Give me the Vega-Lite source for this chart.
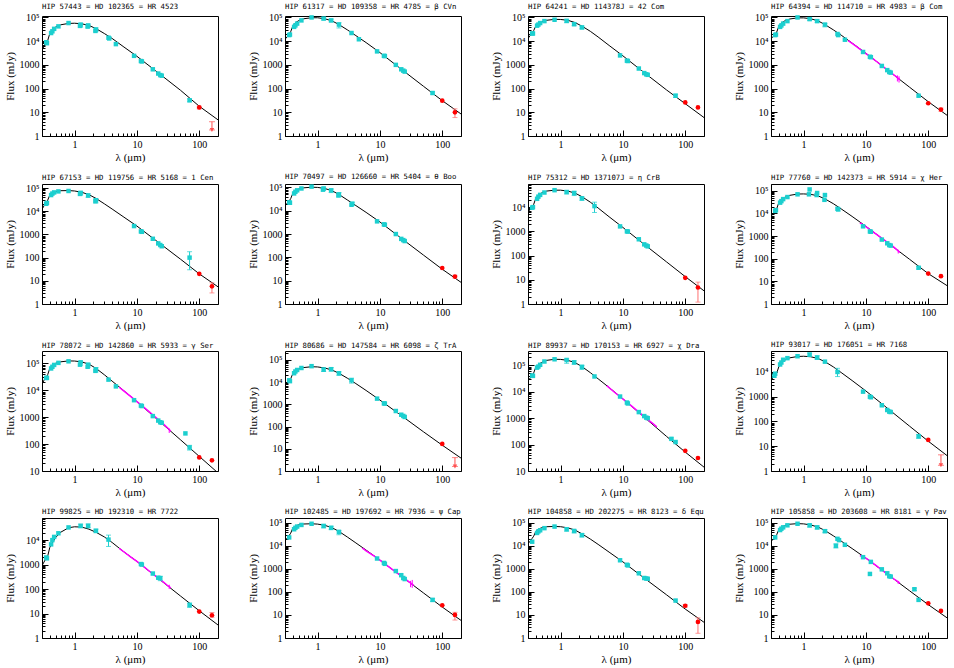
{
"$schema": "https://vega.github.io/schema/vega-lite/v6.json",
"background": "white",
"padding": {"left": 3, "top": 2, "right": 0, "bottom": 0},
"columns": 4,
"spacing": {"row": 9, "column": 27},
"datasets": {"d": [
{"p":1,"k":"m","x":0.3,"y":4000},{"p":1,"k":"m","x":0.33,"y":7000},{"p":1,"k":"m","x":0.35,"y":8500},{"p":1,"k":"m","x":0.37,"y":10500},{"p":1,"k":"m","x":0.4,"y":21000},{"p":1,"k":"m","x":0.45,"y":31000},{"p":1,"k":"m","x":0.5,"y":40000},{"p":1,"k":"m","x":0.6,"y":49000},{"p":1,"k":"m","x":0.8,"y":56000},{"p":1,"k":"m","x":1,"y":57000},{"p":1,"k":"m","x":1.3,"y":54000},{"p":1,"k":"m","x":1.7,"y":46000},{"p":1,"k":"m","x":2.2,"y":34000},{"p":1,"k":"m","x":3,"y":21000},{"p":1,"k":"m","x":4,"y":13000},{"p":1,"k":"m","x":6,"y":6000},{"p":1,"k":"m","x":10,"y":2300},{"p":1,"k":"m","x":20,"y":560},{"p":1,"k":"m","x":50,"y":85},{"p":1,"k":"m","x":100,"y":18},{"p":1,"k":"m","x":200,"y":4.8},
{"p":1,"k":"c","x":0.35,"y":9000},{"p":1,"k":"c","x":0.36,"y":8200},{"p":1,"k":"c","x":0.42,"y":22000},{"p":1,"k":"c","x":0.44,"y":26000},{"p":1,"k":"c","x":0.47,"y":33000},{"p":1,"k":"c","x":0.55,"y":42000},{"p":1,"k":"c","x":0.8,"y":58000},{"p":1,"k":"c","x":1.25,"y":50000},{"p":1,"k":"c","x":1.22,"y":44000},{"p":1,"k":"c","x":1.65,"y":46000},{"p":1,"k":"c","x":1.62,"y":41000},{"p":1,"k":"c","x":2.2,"y":31000},{"p":1,"k":"c","x":2.16,"y":27000},{"p":1,"k":"c","x":3.5,"y":14000},{"p":1,"k":"c","x":3.6,"y":13000},{"p":1,"k":"c","x":4.6,"y":7500},{"p":1,"k":"c","x":9,"y":2400},{"p":1,"k":"c","x":11.6,"y":1450},{"p":1,"k":"c","x":12,"y":1400},{"p":1,"k":"c","x":18,"y":650},{"p":1,"k":"c","x":22,"y":430},{"p":1,"k":"c","x":23.7,"y":370},{"p":1,"k":"c","x":25,"y":350},{"p":1,"k":"c","x":70,"y":32},
{"p":1,"k":"ce","x":1.25,"y":39000,"y2":56000},{"p":1,"k":"ce","x":1.65,"y":38000,"y2":52000},{"p":1,"k":"ce","x":2.2,"y":25000,"y2":36000},{"p":1,"k":"ce","x":70,"y":28,"y2":37},
{"p":1,"k":"r","x":100,"y":16},{"p":1,"k":"re","x":100,"y":14,"y2":18},{"p":1,"k":"u","x":160,"y":4,"y2":1.8},{"p":1,"k":"ua","x":160,"y":1.8},
{"p":2,"k":"m","x":0.3,"y":12000},{"p":2,"k":"m","x":0.33,"y":16000},{"p":2,"k":"m","x":0.35,"y":20000},{"p":2,"k":"m","x":0.37,"y":25000},{"p":2,"k":"m","x":0.4,"y":43000},{"p":2,"k":"m","x":0.45,"y":62000},{"p":2,"k":"m","x":0.5,"y":74000},{"p":2,"k":"m","x":0.6,"y":88000},{"p":2,"k":"m","x":0.8,"y":97000},{"p":2,"k":"m","x":1,"y":97000},{"p":2,"k":"m","x":1.3,"y":88000},{"p":2,"k":"m","x":1.7,"y":72000},{"p":2,"k":"m","x":2.2,"y":50000},{"p":2,"k":"m","x":3,"y":30000},{"p":2,"k":"m","x":4,"y":18000},{"p":2,"k":"m","x":6,"y":8700},{"p":2,"k":"m","x":10,"y":3300},{"p":2,"k":"m","x":20,"y":800},{"p":2,"k":"m","x":50,"y":125},{"p":2,"k":"m","x":100,"y":31},{"p":2,"k":"m","x":200,"y":8.5},
{"p":2,"k":"c","x":0.35,"y":18000},{"p":2,"k":"c","x":0.36,"y":19000},{"p":2,"k":"c","x":0.42,"y":40000},{"p":2,"k":"c","x":0.44,"y":46000},{"p":2,"k":"c","x":0.47,"y":55000},{"p":2,"k":"c","x":0.55,"y":75000},{"p":2,"k":"c","x":0.8,"y":100000},{"p":2,"k":"c","x":1.25,"y":90000},{"p":2,"k":"c","x":1.65,"y":75000},{"p":2,"k":"c","x":2.2,"y":50000},{"p":2,"k":"c","x":3.5,"y":22000},{"p":2,"k":"c","x":4.6,"y":12000},{"p":2,"k":"c","x":9,"y":3700},{"p":2,"k":"c","x":11.6,"y":2400},{"p":2,"k":"c","x":12,"y":2350},{"p":2,"k":"c","x":18,"y":1000},{"p":2,"k":"c","x":22,"y":650},{"p":2,"k":"c","x":23.7,"y":570},{"p":2,"k":"c","x":25,"y":520},{"p":2,"k":"c","x":70,"y":65},
{"p":2,"k":"ce","x":1.25,"y":78000,"y2":100000},{"p":2,"k":"ce","x":1.65,"y":65000,"y2":85000},{"p":2,"k":"ce","x":2.2,"y":36000,"y2":60000},{"p":2,"k":"ce","x":70,"y":58,"y2":72},
{"p":2,"k":"r","x":100,"y":31},{"p":2,"k":"r","x":160,"y":10},{"p":2,"k":"re","x":160,"y":6,"y2":14},
{"p":3,"k":"m","x":0.3,"y":13000},{"p":3,"k":"m","x":0.33,"y":18000},{"p":3,"k":"m","x":0.35,"y":22000},{"p":3,"k":"m","x":0.37,"y":28000},{"p":3,"k":"m","x":0.4,"y":43000},{"p":3,"k":"m","x":0.45,"y":56000},{"p":3,"k":"m","x":0.5,"y":66000},{"p":3,"k":"m","x":0.6,"y":76000},{"p":3,"k":"m","x":0.8,"y":83000},{"p":3,"k":"m","x":1,"y":82000},{"p":3,"k":"m","x":1.3,"y":76000},{"p":3,"k":"m","x":1.7,"y":61000},{"p":3,"k":"m","x":2.2,"y":43000},{"p":3,"k":"m","x":3,"y":26000},{"p":3,"k":"m","x":4,"y":15000},{"p":3,"k":"m","x":6,"y":6600},{"p":3,"k":"m","x":10,"y":2400},{"p":3,"k":"m","x":20,"y":570},{"p":3,"k":"m","x":50,"y":88},{"p":3,"k":"m","x":100,"y":23},{"p":3,"k":"m","x":200,"y":6},
{"p":3,"k":"c","x":0.35,"y":21000},{"p":3,"k":"c","x":0.36,"y":21000},{"p":3,"k":"c","x":0.42,"y":45000},{"p":3,"k":"c","x":0.44,"y":50000},{"p":3,"k":"c","x":0.47,"y":58000},{"p":3,"k":"c","x":0.55,"y":70000},{"p":3,"k":"c","x":0.8,"y":80000},{"p":3,"k":"c","x":1.25,"y":72000},{"p":3,"k":"c","x":1.65,"y":52000},{"p":3,"k":"c","x":2.2,"y":38000},{"p":3,"k":"c","x":9,"y":2500},{"p":3,"k":"c","x":11.6,"y":1500},{"p":3,"k":"c","x":12,"y":1450},{"p":3,"k":"c","x":18,"y":700},{"p":3,"k":"c","x":22,"y":450},{"p":3,"k":"c","x":23.7,"y":400},{"p":3,"k":"c","x":25,"y":380},{"p":3,"k":"c","x":70,"y":50},
{"p":3,"k":"ce","x":1.25,"y":60000,"y2":80000},{"p":3,"k":"ce","x":1.65,"y":45000,"y2":60000},{"p":3,"k":"ce","x":2.2,"y":33000,"y2":43000},{"p":3,"k":"ce","x":70,"y":42,"y2":58},
{"p":3,"k":"r","x":100,"y":26},{"p":3,"k":"r","x":160,"y":16},
{"p":4,"k":"m","x":0.3,"y":13000},{"p":4,"k":"m","x":0.33,"y":16000},{"p":4,"k":"m","x":0.35,"y":19000},{"p":4,"k":"m","x":0.37,"y":24000},{"p":4,"k":"m","x":0.4,"y":42000},{"p":4,"k":"m","x":0.45,"y":60000},{"p":4,"k":"m","x":0.5,"y":72000},{"p":4,"k":"m","x":0.6,"y":86000},{"p":4,"k":"m","x":0.8,"y":96000},{"p":4,"k":"m","x":1,"y":96000},{"p":4,"k":"m","x":1.3,"y":88000},{"p":4,"k":"m","x":1.7,"y":72000},{"p":4,"k":"m","x":2.2,"y":50000},{"p":4,"k":"m","x":3,"y":30000},{"p":4,"k":"m","x":4,"y":18000},{"p":4,"k":"m","x":6,"y":8300},{"p":4,"k":"m","x":10,"y":3100},{"p":4,"k":"m","x":20,"y":750},{"p":4,"k":"m","x":50,"y":115},{"p":4,"k":"m","x":100,"y":28},{"p":4,"k":"m","x":200,"y":7.5},
{"p":4,"k":"c","x":0.35,"y":18000},{"p":4,"k":"c","x":0.36,"y":19000},{"p":4,"k":"c","x":0.42,"y":40000},{"p":4,"k":"c","x":0.44,"y":46000},{"p":4,"k":"c","x":0.47,"y":55000},{"p":4,"k":"c","x":0.55,"y":70000},{"p":4,"k":"c","x":0.8,"y":100000},{"p":4,"k":"c","x":1.25,"y":85000},{"p":4,"k":"c","x":1.65,"y":70000},{"p":4,"k":"c","x":2.2,"y":50000},{"p":4,"k":"c","x":3.5,"y":20000},{"p":4,"k":"c","x":3.6,"y":18000},{"p":4,"k":"c","x":4.6,"y":11500},{"p":4,"k":"c","x":9,"y":3500},{"p":4,"k":"c","x":11.6,"y":2200},{"p":4,"k":"c","x":12,"y":2100},{"p":4,"k":"c","x":18,"y":900},{"p":4,"k":"c","x":22,"y":600},{"p":4,"k":"c","x":23.7,"y":500},{"p":4,"k":"c","x":25,"y":470},{"p":4,"k":"c","x":70,"y":50},
{"p":4,"k":"ce","x":1.25,"y":75000,"y2":95000},{"p":4,"k":"ce","x":1.65,"y":62000,"y2":78000},{"p":4,"k":"ce","x":2.2,"y":40000,"y2":56000},
{"p":4,"k":"r","x":100,"y":24},{"p":4,"k":"r","x":160,"y":13},{"p":4,"k":"re","x":160,"y":11,"y2":15},
{"p":4,"k":"s","x":5.2,"y":10500},{"p":4,"k":"s","x":6,"y":8000},{"p":4,"k":"s","x":7,"y":6000},{"p":4,"k":"s","x":8,"y":4600},{"p":4,"k":"s","x":10,"y":3000},{"p":4,"k":"s","x":12,"y":2100},{"p":4,"k":"s","x":15,"y":1350},{"p":4,"k":"s","x":18,"y":930},{"p":4,"k":"s","x":20,"y":750},{"p":4,"k":"s","x":25,"y":480},{"p":4,"k":"s","x":30,"y":330},{"p":4,"k":"s","x":33,"y":270},{"p":4,"k":"s","x":35,"y":240},
{"p":4,"k":"se","x":32,"y":200,"y2":360},{"p":4,"k":"se","x":34,"y":180,"y2":330},
{"p":5,"k":"m","x":0.3,"y":12000},{"p":5,"k":"m","x":0.33,"y":19000},{"p":5,"k":"m","x":0.35,"y":23000},{"p":5,"k":"m","x":0.37,"y":30000},{"p":5,"k":"m","x":0.4,"y":50000},{"p":5,"k":"m","x":0.45,"y":63000},{"p":5,"k":"m","x":0.5,"y":71000},{"p":5,"k":"m","x":0.6,"y":77000},{"p":5,"k":"m","x":0.8,"y":78000},{"p":5,"k":"m","x":1,"y":75000},{"p":5,"k":"m","x":1.3,"y":66000},{"p":5,"k":"m","x":1.7,"y":52000},{"p":5,"k":"m","x":2.2,"y":36000},{"p":5,"k":"m","x":3,"y":21000},{"p":5,"k":"m","x":4,"y":12500},{"p":5,"k":"m","x":6,"y":5900},{"p":5,"k":"m","x":10,"y":2300},{"p":5,"k":"m","x":20,"y":560},{"p":5,"k":"m","x":50,"y":86},{"p":5,"k":"m","x":100,"y":20},{"p":5,"k":"m","x":200,"y":5.5},
{"p":5,"k":"c","x":0.35,"y":21000},{"p":5,"k":"c","x":0.36,"y":23000},{"p":5,"k":"c","x":0.42,"y":50000},{"p":5,"k":"c","x":0.44,"y":58000},{"p":5,"k":"c","x":0.47,"y":65000},{"p":5,"k":"c","x":0.55,"y":72000},{"p":5,"k":"c","x":0.8,"y":75000},{"p":5,"k":"c","x":1.25,"y":62000},{"p":5,"k":"c","x":1.22,"y":56000},{"p":5,"k":"c","x":1.65,"y":48000},{"p":5,"k":"c","x":2.2,"y":30000},{"p":5,"k":"c","x":2.16,"y":27000},{"p":5,"k":"c","x":9,"y":2300},{"p":5,"k":"c","x":11.6,"y":1350},{"p":5,"k":"c","x":12,"y":1300},{"p":5,"k":"c","x":18,"y":650},{"p":5,"k":"c","x":22,"y":410},{"p":5,"k":"c","x":23.7,"y":350},{"p":5,"k":"c","x":25,"y":310},{"p":5,"k":"c","x":70,"y":100},
{"p":5,"k":"ce","x":1.25,"y":50000,"y2":72000},{"p":5,"k":"ce","x":1.65,"y":40000,"y2":56000},{"p":5,"k":"ce","x":2.2,"y":23000,"y2":35000},{"p":5,"k":"ce","x":70,"y":30,"y2":180},
{"p":5,"k":"r","x":100,"y":20},{"p":5,"k":"r","x":160,"y":5.8},{"p":5,"k":"re","x":160,"y":3,"y2":8.2},
{"p":6,"k":"m","x":0.3,"y":16000},{"p":6,"k":"m","x":0.33,"y":22000},{"p":6,"k":"m","x":0.35,"y":26000},{"p":6,"k":"m","x":0.37,"y":33000},{"p":6,"k":"m","x":0.4,"y":55000},{"p":6,"k":"m","x":0.45,"y":73000},{"p":6,"k":"m","x":0.5,"y":85000},{"p":6,"k":"m","x":0.6,"y":96000},{"p":6,"k":"m","x":0.8,"y":102000},{"p":6,"k":"m","x":1,"y":100000},{"p":6,"k":"m","x":1.3,"y":90000},{"p":6,"k":"m","x":1.7,"y":72000},{"p":6,"k":"m","x":2.2,"y":50000},{"p":6,"k":"m","x":3,"y":29000},{"p":6,"k":"m","x":4,"y":17500},{"p":6,"k":"m","x":6,"y":8500},{"p":6,"k":"m","x":10,"y":3300},{"p":6,"k":"m","x":20,"y":800},{"p":6,"k":"m","x":50,"y":125},{"p":6,"k":"m","x":100,"y":31},{"p":6,"k":"m","x":200,"y":8.5},
{"p":6,"k":"c","x":0.35,"y":23000},{"p":6,"k":"c","x":0.36,"y":22000},{"p":6,"k":"c","x":0.42,"y":55000},{"p":6,"k":"c","x":0.44,"y":65000},{"p":6,"k":"c","x":0.47,"y":75000},{"p":6,"k":"c","x":0.55,"y":90000},{"p":6,"k":"c","x":0.8,"y":108000},{"p":6,"k":"c","x":1.25,"y":90000},{"p":6,"k":"c","x":1.22,"y":80000},{"p":6,"k":"c","x":1.65,"y":75000},{"p":6,"k":"c","x":2.2,"y":50000},{"p":6,"k":"c","x":2.16,"y":45000},{"p":6,"k":"c","x":3.5,"y":18000},{"p":6,"k":"c","x":3.6,"y":20000},{"p":6,"k":"c","x":9,"y":3500},{"p":6,"k":"c","x":11.6,"y":2600},{"p":6,"k":"c","x":12,"y":2500},{"p":6,"k":"c","x":18,"y":1000},{"p":6,"k":"c","x":22,"y":620},{"p":6,"k":"c","x":23.7,"y":550},{"p":6,"k":"c","x":25,"y":500},
{"p":6,"k":"ce","x":1.25,"y":75000,"y2":102000},{"p":6,"k":"ce","x":1.65,"y":60000,"y2":85000},{"p":6,"k":"ce","x":2.2,"y":40000,"y2":60000},{"p":6,"k":"ce","x":3.6,"y":17000,"y2":23000},
{"p":6,"k":"r","x":100,"y":35},{"p":6,"k":"r","x":160,"y":15},{"p":6,"k":"re","x":160,"y":13,"y2":17},
{"p":7,"k":"m","x":0.3,"y":6000},{"p":7,"k":"m","x":0.33,"y":9000},{"p":7,"k":"m","x":0.35,"y":10000},{"p":7,"k":"m","x":0.37,"y":13000},{"p":7,"k":"m","x":0.4,"y":23000},{"p":7,"k":"m","x":0.45,"y":32000},{"p":7,"k":"m","x":0.5,"y":39000},{"p":7,"k":"m","x":0.6,"y":46000},{"p":7,"k":"m","x":0.8,"y":50000},{"p":7,"k":"m","x":1,"y":50000},{"p":7,"k":"m","x":1.3,"y":46000},{"p":7,"k":"m","x":1.7,"y":38000},{"p":7,"k":"m","x":2.2,"y":27000},{"p":7,"k":"m","x":3,"y":16000},{"p":7,"k":"m","x":4,"y":9200},{"p":7,"k":"m","x":6,"y":4000},{"p":7,"k":"m","x":10,"y":1450},{"p":7,"k":"m","x":20,"y":350},{"p":7,"k":"m","x":50,"y":55},{"p":7,"k":"m","x":100,"y":13.5},{"p":7,"k":"m","x":200,"y":3.5},
{"p":7,"k":"c","x":0.35,"y":9500},{"p":7,"k":"c","x":0.36,"y":10000},{"p":7,"k":"c","x":0.42,"y":22000},{"p":7,"k":"c","x":0.44,"y":27000},{"p":7,"k":"c","x":0.47,"y":32000},{"p":7,"k":"c","x":0.55,"y":40000},{"p":7,"k":"c","x":0.8,"y":50000},{"p":7,"k":"c","x":1.25,"y":42000},{"p":7,"k":"c","x":1.65,"y":38000},{"p":7,"k":"c","x":2.2,"y":23000},{"p":7,"k":"c","x":3.5,"y":11000},{"p":7,"k":"c","x":9,"y":1600},{"p":7,"k":"c","x":11.6,"y":1000},{"p":7,"k":"c","x":12,"y":980},{"p":7,"k":"c","x":18,"y":470},{"p":7,"k":"c","x":22,"y":290},{"p":7,"k":"c","x":23.7,"y":260},{"p":7,"k":"c","x":25,"y":240},
{"p":7,"k":"ce","x":1.25,"y":35000,"y2":48000},{"p":7,"k":"ce","x":1.65,"y":30000,"y2":45000},{"p":7,"k":"ce","x":2.2,"y":19000,"y2":26000},{"p":7,"k":"ce","x":3.5,"y":6000,"y2":16000},
{"p":7,"k":"r","x":100,"y":12},{"p":7,"k":"r","x":160,"y":4.8},{"p":7,"k":"re","x":160,"y":1.2,"y2":8},
{"p":8,"k":"m","x":0.3,"y":7500},{"p":8,"k":"m","x":0.33,"y":10000},{"p":8,"k":"m","x":0.35,"y":13000},{"p":8,"k":"m","x":0.37,"y":16000},{"p":8,"k":"m","x":0.4,"y":30000},{"p":8,"k":"m","x":0.45,"y":42000},{"p":8,"k":"m","x":0.5,"y":52000},{"p":8,"k":"m","x":0.6,"y":63000},{"p":8,"k":"m","x":0.8,"y":72000},{"p":8,"k":"m","x":1,"y":73000},{"p":8,"k":"m","x":1.3,"y":70000},{"p":8,"k":"m","x":1.7,"y":60000},{"p":8,"k":"m","x":2.2,"y":44000},{"p":8,"k":"m","x":3,"y":27000},{"p":8,"k":"m","x":4,"y":16000},{"p":8,"k":"m","x":6,"y":7400},{"p":8,"k":"m","x":10,"y":2700},{"p":8,"k":"m","x":20,"y":640},{"p":8,"k":"m","x":50,"y":95},{"p":8,"k":"m","x":100,"y":22},{"p":8,"k":"m","x":200,"y":6.5},
{"p":8,"k":"c","x":0.35,"y":13000},{"p":8,"k":"c","x":0.36,"y":14000},{"p":8,"k":"c","x":0.42,"y":30000},{"p":8,"k":"c","x":0.44,"y":35000},{"p":8,"k":"c","x":0.47,"y":43000},{"p":8,"k":"c","x":0.55,"y":53000},{"p":8,"k":"c","x":0.8,"y":70000},{"p":8,"k":"c","x":1.25,"y":115000},{"p":8,"k":"c","x":1.22,"y":70000},{"p":8,"k":"c","x":1.65,"y":80000},{"p":8,"k":"c","x":1.62,"y":65000},{"p":8,"k":"c","x":2.2,"y":65000},{"p":8,"k":"c","x":2.16,"y":40000},{"p":8,"k":"c","x":3.5,"y":16000},{"p":8,"k":"c","x":3.6,"y":15000},{"p":8,"k":"c","x":9,"y":2700},{"p":8,"k":"c","x":11.6,"y":1600},{"p":8,"k":"c","x":12,"y":1550},{"p":8,"k":"c","x":18,"y":700},{"p":8,"k":"c","x":22,"y":480},{"p":8,"k":"c","x":23.7,"y":400},{"p":8,"k":"c","x":25,"y":380},{"p":8,"k":"c","x":70,"y":40},
{"p":8,"k":"ce","x":70,"y":35,"y2":45},
{"p":8,"k":"r","x":100,"y":22},{"p":8,"k":"r","x":160,"y":17},
{"p":8,"k":"s","x":8,"y":3800},{"p":8,"k":"s","x":10,"y":2600},{"p":8,"k":"s","x":12,"y":1800},{"p":8,"k":"s","x":15,"y":1150},{"p":8,"k":"s","x":20,"y":650},{"p":8,"k":"s","x":25,"y":420},{"p":8,"k":"s","x":30,"y":280},{"p":8,"k":"s","x":33,"y":220},{"p":8,"k":"s","x":35,"y":190},
{"p":8,"k":"se","x":33,"y":170,"y2":250},
{"p":9,"k":"m","x":0.3,"y":17000},{"p":9,"k":"m","x":0.33,"y":26000},{"p":9,"k":"m","x":0.35,"y":30000},{"p":9,"k":"m","x":0.37,"y":38000},{"p":9,"k":"m","x":0.4,"y":66000},{"p":9,"k":"m","x":0.45,"y":88000},{"p":9,"k":"m","x":0.5,"y":102000},{"p":9,"k":"m","x":0.6,"y":115000},{"p":9,"k":"m","x":0.8,"y":124000},{"p":9,"k":"m","x":1,"y":123000},{"p":9,"k":"m","x":1.3,"y":114000},{"p":9,"k":"m","x":1.7,"y":94000},{"p":9,"k":"m","x":2.2,"y":66000},{"p":9,"k":"m","x":3,"y":38000},{"p":9,"k":"m","x":4,"y":22000},{"p":9,"k":"m","x":6,"y":10200},{"p":9,"k":"m","x":10,"y":3800},{"p":9,"k":"m","x":20,"y":930},{"p":9,"k":"m","x":50,"y":145},{"p":9,"k":"m","x":100,"y":35},{"p":9,"k":"m","x":200,"y":8.5},
{"p":9,"k":"c","x":0.35,"y":29000},{"p":9,"k":"c","x":0.36,"y":29000},{"p":9,"k":"c","x":0.42,"y":65000},{"p":9,"k":"c","x":0.44,"y":75000},{"p":9,"k":"c","x":0.47,"y":88000},{"p":9,"k":"c","x":0.55,"y":105000},{"p":9,"k":"c","x":0.8,"y":120000},{"p":9,"k":"c","x":1.25,"y":110000},{"p":9,"k":"c","x":1.22,"y":90000},{"p":9,"k":"c","x":1.65,"y":90000},{"p":9,"k":"c","x":1.62,"y":75000},{"p":9,"k":"c","x":2.2,"y":60000},{"p":9,"k":"c","x":2.16,"y":53000},{"p":9,"k":"c","x":3.5,"y":25000},{"p":9,"k":"c","x":4.6,"y":14000},{"p":9,"k":"c","x":9,"y":4300},{"p":9,"k":"c","x":11.6,"y":2700},{"p":9,"k":"c","x":12,"y":2600},{"p":9,"k":"c","x":18,"y":1100},{"p":9,"k":"c","x":22,"y":750},{"p":9,"k":"c","x":23.7,"y":650},{"p":9,"k":"c","x":25,"y":620},{"p":9,"k":"c","x":60,"y":250},{"p":9,"k":"c","x":70,"y":75},
{"p":9,"k":"ce","x":1.25,"y":85000,"y2":120000},{"p":9,"k":"ce","x":1.65,"y":70000,"y2":100000},{"p":9,"k":"ce","x":2.2,"y":48000,"y2":70000},{"p":9,"k":"ce","x":70,"y":60,"y2":90},
{"p":9,"k":"r","x":100,"y":32},{"p":9,"k":"r","x":160,"y":25},
{"p":9,"k":"s","x":5.2,"y":13000},{"p":9,"k":"s","x":6,"y":10000},{"p":9,"k":"s","x":8,"y":5800},{"p":9,"k":"s","x":10,"y":3800},{"p":9,"k":"s","x":12,"y":2700},{"p":9,"k":"s","x":15,"y":1750},{"p":9,"k":"s","x":20,"y":1000},{"p":9,"k":"s","x":25,"y":640},{"p":9,"k":"s","x":30,"y":430},{"p":9,"k":"s","x":33,"y":350},{"p":9,"k":"s","x":35,"y":300},
{"p":9,"k":"se","x":33,"y":260,"y2":380},
{"p":10,"k":"m","x":0.3,"y":7000},{"p":10,"k":"m","x":0.33,"y":10000},{"p":10,"k":"m","x":0.35,"y":11500},{"p":10,"k":"m","x":0.37,"y":14000},{"p":10,"k":"m","x":0.4,"y":24000},{"p":10,"k":"m","x":0.45,"y":33000},{"p":10,"k":"m","x":0.5,"y":39000},{"p":10,"k":"m","x":0.6,"y":45000},{"p":10,"k":"m","x":0.8,"y":49000},{"p":10,"k":"m","x":1,"y":48000},{"p":10,"k":"m","x":1.3,"y":43000},{"p":10,"k":"m","x":1.7,"y":35000},{"p":10,"k":"m","x":2.2,"y":25000},{"p":10,"k":"m","x":3,"y":15000},{"p":10,"k":"m","x":4,"y":9000},{"p":10,"k":"m","x":6,"y":4200},{"p":10,"k":"m","x":10,"y":1550},{"p":10,"k":"m","x":20,"y":380},{"p":10,"k":"m","x":50,"y":58},{"p":10,"k":"m","x":100,"y":14.5},{"p":10,"k":"m","x":200,"y":3.8},
{"p":10,"k":"c","x":0.35,"y":12000},{"p":10,"k":"c","x":0.36,"y":11000},{"p":10,"k":"c","x":0.42,"y":25000},{"p":10,"k":"c","x":0.44,"y":30000},{"p":10,"k":"c","x":0.47,"y":35000},{"p":10,"k":"c","x":0.55,"y":43000},{"p":10,"k":"c","x":0.8,"y":52000},{"p":10,"k":"c","x":1.25,"y":36000},{"p":10,"k":"c","x":1.65,"y":38000},{"p":10,"k":"c","x":2.2,"y":25000},{"p":10,"k":"c","x":3.5,"y":12000},{"p":10,"k":"c","x":9,"y":1800},{"p":10,"k":"c","x":11.6,"y":1100},{"p":10,"k":"c","x":12,"y":1080},{"p":10,"k":"c","x":18,"y":500},{"p":10,"k":"c","x":22,"y":340},{"p":10,"k":"c","x":23.7,"y":300},{"p":10,"k":"c","x":25,"y":270},
{"p":10,"k":"ce","x":1.25,"y":30000,"y2":44000},{"p":10,"k":"ce","x":1.65,"y":31000,"y2":45000},{"p":10,"k":"ce","x":2.2,"y":20000,"y2":29000},{"p":10,"k":"ce","x":3.5,"y":9000,"y2":15000},
{"p":10,"k":"r","x":100,"y":16.5},{"p":10,"k":"u","x":160,"y":4,"y2":1.6},{"p":10,"k":"ua","x":160,"y":1.6},
{"p":11,"k":"m","x":0.3,"y":25000},{"p":11,"k":"m","x":0.33,"y":35000},{"p":11,"k":"m","x":0.35,"y":42000},{"p":11,"k":"m","x":0.37,"y":52000},{"p":11,"k":"m","x":0.4,"y":85000},{"p":11,"k":"m","x":0.45,"y":112000},{"p":11,"k":"m","x":0.5,"y":130000},{"p":11,"k":"m","x":0.6,"y":155000},{"p":11,"k":"m","x":0.8,"y":170000},{"p":11,"k":"m","x":1,"y":168000},{"p":11,"k":"m","x":1.3,"y":155000},{"p":11,"k":"m","x":1.7,"y":128000},{"p":11,"k":"m","x":2.2,"y":90000},{"p":11,"k":"m","x":3,"y":53000},{"p":11,"k":"m","x":4,"y":31000},{"p":11,"k":"m","x":6,"y":14500},{"p":11,"k":"m","x":10,"y":5400},{"p":11,"k":"m","x":20,"y":1320},{"p":11,"k":"m","x":50,"y":205},{"p":11,"k":"m","x":100,"y":52},{"p":11,"k":"m","x":200,"y":14},
{"p":11,"k":"c","x":0.35,"y":41000},{"p":11,"k":"c","x":0.36,"y":40000},{"p":11,"k":"c","x":0.42,"y":82000},{"p":11,"k":"c","x":0.44,"y":90000},{"p":11,"k":"c","x":0.47,"y":105000},{"p":11,"k":"c","x":0.55,"y":140000},{"p":11,"k":"c","x":0.8,"y":170000},{"p":11,"k":"c","x":1.25,"y":160000},{"p":11,"k":"c","x":1.65,"y":130000},{"p":11,"k":"c","x":2.2,"y":88000},{"p":11,"k":"c","x":3.5,"y":38000},{"p":11,"k":"c","x":9,"y":6600},{"p":11,"k":"c","x":11.6,"y":3900},{"p":11,"k":"c","x":12,"y":3600},{"p":11,"k":"c","x":18,"y":1700},{"p":11,"k":"c","x":22,"y":1200},{"p":11,"k":"c","x":23.7,"y":1050},{"p":11,"k":"c","x":25,"y":1000},{"p":11,"k":"c","x":60,"y":165},{"p":11,"k":"c","x":70,"y":125},
{"p":11,"k":"ce","x":1.25,"y":120000,"y2":175000},{"p":11,"k":"ce","x":1.65,"y":110000,"y2":150000},{"p":11,"k":"ce","x":2.2,"y":70000,"y2":100000},{"p":11,"k":"ce","x":60,"y":150,"y2":180},
{"p":11,"k":"r","x":100,"y":58},{"p":11,"k":"r","x":160,"y":31},
{"p":11,"k":"s","x":5.5,"y":17000},{"p":11,"k":"s","x":7,"y":10500},{"p":11,"k":"s","x":9,"y":6500},{"p":11,"k":"s","x":11,"y":4400},{"p":11,"k":"s","x":14,"y":2800},{"p":11,"k":"s","x":18,"y":1700},{"p":11,"k":"s","x":22,"y":1150},{"p":11,"k":"s","x":26,"y":830},{"p":11,"k":"s","x":30,"y":640},{"p":11,"k":"s","x":35,"y":470},
{"p":12,"k":"m","x":0.3,"y":4500},{"p":12,"k":"m","x":0.33,"y":6500},{"p":12,"k":"m","x":0.35,"y":7500},{"p":12,"k":"m","x":0.37,"y":9000},{"p":12,"k":"m","x":0.4,"y":16000},{"p":12,"k":"m","x":0.45,"y":24000},{"p":12,"k":"m","x":0.5,"y":30000},{"p":12,"k":"m","x":0.6,"y":37000},{"p":12,"k":"m","x":0.8,"y":42000},{"p":12,"k":"m","x":1,"y":43000},{"p":12,"k":"m","x":1.3,"y":41000},{"p":12,"k":"m","x":1.7,"y":35000},{"p":12,"k":"m","x":2.2,"y":26000},{"p":12,"k":"m","x":3,"y":16000},{"p":12,"k":"m","x":4,"y":9500},{"p":12,"k":"m","x":6,"y":4500},{"p":12,"k":"m","x":10,"y":1700},{"p":12,"k":"m","x":20,"y":420},{"p":12,"k":"m","x":50,"y":65},{"p":12,"k":"m","x":100,"y":16},{"p":12,"k":"m","x":200,"y":4.2},
{"p":12,"k":"c","x":0.34,"y":7000},{"p":12,"k":"c","x":0.35,"y":8500},{"p":12,"k":"c","x":0.42,"y":20000},{"p":12,"k":"c","x":0.44,"y":24000},{"p":12,"k":"c","x":0.47,"y":31000},{"p":12,"k":"c","x":0.55,"y":36000},{"p":12,"k":"c","x":0.8,"y":43000},{"p":12,"k":"c","x":1.25,"y":50000},{"p":12,"k":"c","x":1.65,"y":38000},{"p":12,"k":"c","x":2.2,"y":26000},{"p":12,"k":"c","x":3.5,"y":10000},{"p":12,"k":"c","x":9,"y":1600},{"p":12,"k":"c","x":11.6,"y":1000},{"p":12,"k":"c","x":12,"y":950},{"p":12,"k":"c","x":18,"y":450},{"p":12,"k":"c","x":22,"y":290},{"p":12,"k":"c","x":23.7,"y":250},{"p":12,"k":"c","x":25,"y":240},{"p":12,"k":"c","x":70,"y":25},
{"p":12,"k":"ce","x":1.25,"y":43000,"y2":58000},{"p":12,"k":"ce","x":1.65,"y":32000,"y2":45000},{"p":12,"k":"ce","x":3.5,"y":6500,"y2":14000},{"p":12,"k":"ce","x":70,"y":21,"y2":30},
{"p":12,"k":"r","x":100,"y":18},{"p":12,"k":"u","x":160,"y":4.5,"y2":1.7},{"p":12,"k":"ua","x":160,"y":1.7},
{"p":13,"k":"m","x":0.3,"y":900},{"p":13,"k":"m","x":0.33,"y":1400},{"p":13,"k":"m","x":0.35,"y":1900},{"p":13,"k":"m","x":0.37,"y":2200},{"p":13,"k":"m","x":0.4,"y":5000},{"p":13,"k":"m","x":0.45,"y":8500},{"p":13,"k":"m","x":0.5,"y":13000},{"p":13,"k":"m","x":0.6,"y":21000},{"p":13,"k":"m","x":0.8,"y":32000},{"p":13,"k":"m","x":1,"y":35000},{"p":13,"k":"m","x":1.3,"y":34000},{"p":13,"k":"m","x":1.7,"y":28000},{"p":13,"k":"m","x":2.2,"y":21000},{"p":13,"k":"m","x":3,"y":13500},{"p":13,"k":"m","x":4,"y":8000},{"p":13,"k":"m","x":6,"y":3500},{"p":13,"k":"m","x":10,"y":1350},{"p":13,"k":"m","x":20,"y":330},{"p":13,"k":"m","x":50,"y":52},{"p":13,"k":"m","x":100,"y":13},{"p":13,"k":"m","x":200,"y":3.4},
{"p":13,"k":"c","x":0.35,"y":1950},{"p":13,"k":"c","x":0.36,"y":1800},{"p":13,"k":"c","x":0.42,"y":6700},{"p":13,"k":"c","x":0.44,"y":10000},{"p":13,"k":"c","x":0.47,"y":13500},{"p":13,"k":"c","x":0.55,"y":19000},{"p":13,"k":"c","x":0.8,"y":33000},{"p":13,"k":"c","x":1.25,"y":38000},{"p":13,"k":"c","x":1.65,"y":38000},{"p":13,"k":"c","x":2.2,"y":24000},{"p":13,"k":"c","x":3.5,"y":10500},{"p":13,"k":"c","x":11.6,"y":1050},{"p":13,"k":"c","x":12,"y":1000},{"p":13,"k":"c","x":18,"y":430},{"p":13,"k":"c","x":22,"y":290},{"p":13,"k":"c","x":23.7,"y":280},{"p":13,"k":"c","x":70,"y":22},
{"p":13,"k":"ce","x":1.25,"y":32000,"y2":45000},{"p":13,"k":"ce","x":1.65,"y":32000,"y2":46000},{"p":13,"k":"ce","x":2.2,"y":20000,"y2":28000},{"p":13,"k":"ce","x":3.5,"y":5500,"y2":16000},{"p":13,"k":"ce","x":23.7,"y":220,"y2":330},{"p":13,"k":"ce","x":70,"y":18,"y2":27},
{"p":13,"k":"r","x":100,"y":12},{"p":13,"k":"r","x":160,"y":8.5},{"p":13,"k":"re","x":160,"y":7,"y2":11},
{"p":13,"k":"s","x":5.2,"y":4600},{"p":13,"k":"s","x":6,"y":3500},{"p":13,"k":"s","x":8,"y":2000},{"p":13,"k":"s","x":10,"y":1350},{"p":13,"k":"s","x":12,"y":950},{"p":13,"k":"s","x":15,"y":600},{"p":13,"k":"s","x":20,"y":340},{"p":13,"k":"s","x":25,"y":220},{"p":13,"k":"s","x":30,"y":150},{"p":13,"k":"s","x":33,"y":125},{"p":13,"k":"s","x":35,"y":110},
{"p":13,"k":"se","x":33,"y":100,"y2":150},
{"p":14,"k":"m","x":0.3,"y":16000},{"p":14,"k":"m","x":0.33,"y":23000},{"p":14,"k":"m","x":0.35,"y":28000},{"p":14,"k":"m","x":0.37,"y":35000},{"p":14,"k":"m","x":0.4,"y":58000},{"p":14,"k":"m","x":0.45,"y":73000},{"p":14,"k":"m","x":0.5,"y":82000},{"p":14,"k":"m","x":0.6,"y":88000},{"p":14,"k":"m","x":0.8,"y":90000},{"p":14,"k":"m","x":1,"y":87000},{"p":14,"k":"m","x":1.3,"y":77000},{"p":14,"k":"m","x":1.7,"y":61000},{"p":14,"k":"m","x":2.2,"y":42000},{"p":14,"k":"m","x":3,"y":24000},{"p":14,"k":"m","x":4,"y":14000},{"p":14,"k":"m","x":6,"y":6500},{"p":14,"k":"m","x":10,"y":2400},{"p":14,"k":"m","x":20,"y":580},{"p":14,"k":"m","x":50,"y":90},{"p":14,"k":"m","x":100,"y":22},{"p":14,"k":"m","x":200,"y":5.8},
{"p":14,"k":"c","x":0.35,"y":23000},{"p":14,"k":"c","x":0.42,"y":52000},{"p":14,"k":"c","x":0.44,"y":60000},{"p":14,"k":"c","x":0.47,"y":68000},{"p":14,"k":"c","x":0.55,"y":80000},{"p":14,"k":"c","x":0.8,"y":90000},{"p":14,"k":"c","x":1.25,"y":72000},{"p":14,"k":"c","x":1.65,"y":60000},{"p":14,"k":"c","x":2.2,"y":40000},{"p":14,"k":"c","x":9,"y":2800},{"p":14,"k":"c","x":11.6,"y":1800},{"p":14,"k":"c","x":12,"y":1650},{"p":14,"k":"c","x":18,"y":800},{"p":14,"k":"c","x":22,"y":530},{"p":14,"k":"c","x":23.7,"y":400},{"p":14,"k":"c","x":25,"y":360},{"p":14,"k":"c","x":70,"y":45},
{"p":14,"k":"ce","x":1.25,"y":60000,"y2":85000},{"p":14,"k":"ce","x":1.65,"y":50000,"y2":70000},{"p":14,"k":"ce","x":2.2,"y":30000,"y2":45000},{"p":14,"k":"ce","x":70,"y":38,"y2":52},
{"p":14,"k":"r","x":100,"y":26},{"p":14,"k":"r","x":160,"y":10},{"p":14,"k":"re","x":160,"y":6,"y2":13},
{"p":14,"k":"s","x":5.2,"y":8000},{"p":14,"k":"s","x":6,"y":6000},{"p":14,"k":"s","x":8,"y":3600},{"p":14,"k":"s","x":10,"y":2400},{"p":14,"k":"s","x":12,"y":1650},{"p":14,"k":"s","x":15,"y":1050},{"p":14,"k":"s","x":20,"y":590},{"p":14,"k":"s","x":25,"y":380},{"p":14,"k":"s","x":30,"y":260},{"p":14,"k":"s","x":33,"y":220},{"p":14,"k":"s","x":35,"y":190},
{"p":14,"k":"se","x":31,"y":160,"y2":300},{"p":14,"k":"se","x":33,"y":150,"y2":330},
{"p":15,"k":"m","x":0.3,"y":12000},{"p":15,"k":"m","x":0.33,"y":17000},{"p":15,"k":"m","x":0.35,"y":21000},{"p":15,"k":"m","x":0.37,"y":26000},{"p":15,"k":"m","x":0.4,"y":42000},{"p":15,"k":"m","x":0.45,"y":54000},{"p":15,"k":"m","x":0.5,"y":61000},{"p":15,"k":"m","x":0.6,"y":67000},{"p":15,"k":"m","x":0.8,"y":69000},{"p":15,"k":"m","x":1,"y":67000},{"p":15,"k":"m","x":1.3,"y":60000},{"p":15,"k":"m","x":1.7,"y":48000},{"p":15,"k":"m","x":2.2,"y":33000},{"p":15,"k":"m","x":3,"y":19500},{"p":15,"k":"m","x":4,"y":11500},{"p":15,"k":"m","x":6,"y":5300},{"p":15,"k":"m","x":10,"y":2000},{"p":15,"k":"m","x":20,"y":480},{"p":15,"k":"m","x":50,"y":75},{"p":15,"k":"m","x":100,"y":18},{"p":15,"k":"m","x":200,"y":4.8},
{"p":15,"k":"c","x":0.35,"y":15000},{"p":15,"k":"c","x":0.42,"y":36000},{"p":15,"k":"c","x":0.44,"y":42000},{"p":15,"k":"c","x":0.47,"y":47000},{"p":15,"k":"c","x":0.55,"y":58000},{"p":15,"k":"c","x":0.8,"y":68000},{"p":15,"k":"c","x":1.25,"y":52000},{"p":15,"k":"c","x":1.65,"y":44000},{"p":15,"k":"c","x":2.2,"y":29000},{"p":15,"k":"c","x":9,"y":2350},{"p":15,"k":"c","x":11.6,"y":1500},{"p":15,"k":"c","x":12,"y":1400},{"p":15,"k":"c","x":18,"y":640},{"p":15,"k":"c","x":22,"y":400},{"p":15,"k":"c","x":23.7,"y":380},{"p":15,"k":"c","x":25,"y":370},{"p":15,"k":"c","x":70,"y":42},
{"p":15,"k":"ce","x":1.25,"y":43000,"y2":60000},{"p":15,"k":"ce","x":1.65,"y":36000,"y2":50000},{"p":15,"k":"ce","x":2.2,"y":24000,"y2":34000},
{"p":15,"k":"r","x":100,"y":25},{"p":15,"k":"r","x":160,"y":5},{"p":15,"k":"re","x":100,"y":22,"y2":28},{"p":15,"k":"re","x":160,"y":1.6,"y2":7.5},
{"p":16,"k":"m","x":0.3,"y":15000},{"p":16,"k":"m","x":0.33,"y":21000},{"p":16,"k":"m","x":0.35,"y":24000},{"p":16,"k":"m","x":0.37,"y":30000},{"p":16,"k":"m","x":0.4,"y":50000},{"p":16,"k":"m","x":0.45,"y":66000},{"p":16,"k":"m","x":0.5,"y":76000},{"p":16,"k":"m","x":0.6,"y":86000},{"p":16,"k":"m","x":0.8,"y":91000},{"p":16,"k":"m","x":1,"y":89000},{"p":16,"k":"m","x":1.3,"y":80000},{"p":16,"k":"m","x":1.7,"y":65000},{"p":16,"k":"m","x":2.2,"y":46000},{"p":16,"k":"m","x":3,"y":27000},{"p":16,"k":"m","x":4,"y":16000},{"p":16,"k":"m","x":6,"y":7600},{"p":16,"k":"m","x":10,"y":2900},{"p":16,"k":"m","x":20,"y":720},{"p":16,"k":"m","x":50,"y":112},{"p":16,"k":"m","x":100,"y":28},{"p":16,"k":"m","x":200,"y":7.5},
{"p":16,"k":"c","x":0.35,"y":23000},{"p":16,"k":"c","x":0.42,"y":48000},{"p":16,"k":"c","x":0.44,"y":55000},{"p":16,"k":"c","x":0.47,"y":63000},{"p":16,"k":"c","x":0.55,"y":77000},{"p":16,"k":"c","x":0.8,"y":90000},{"p":16,"k":"c","x":1.25,"y":77000},{"p":16,"k":"c","x":1.65,"y":63000},{"p":16,"k":"c","x":2.2,"y":43000},{"p":16,"k":"c","x":3.3,"y":10000},{"p":16,"k":"c","x":3.5,"y":20000},{"p":16,"k":"c","x":3.7,"y":17500},{"p":16,"k":"c","x":4.6,"y":11000},{"p":16,"k":"c","x":9,"y":3200},{"p":16,"k":"c","x":11.6,"y":600},{"p":16,"k":"c","x":12,"y":2000},{"p":16,"k":"c","x":18,"y":950},{"p":16,"k":"c","x":22,"y":640},{"p":16,"k":"c","x":23.7,"y":480},{"p":16,"k":"c","x":25,"y":460},{"p":16,"k":"c","x":60,"y":130},{"p":16,"k":"c","x":70,"y":45},
{"p":16,"k":"ce","x":1.25,"y":65000,"y2":88000},{"p":16,"k":"ce","x":1.65,"y":53000,"y2":72000},{"p":16,"k":"ce","x":2.2,"y":37000,"y2":50000},{"p":16,"k":"ce","x":3.3,"y":8000,"y2":12000},{"p":16,"k":"ce","x":60,"y":115,"y2":145},
{"p":16,"k":"r","x":100,"y":32},{"p":16,"k":"r","x":160,"y":15},
{"p":16,"k":"s","x":8,"y":3800},{"p":16,"k":"s","x":10,"y":2900},{"p":16,"k":"s","x":12,"y":2050},{"p":16,"k":"s","x":15,"y":1300},{"p":16,"k":"s","x":20,"y":720},{"p":16,"k":"s","x":25,"y":460},{"p":16,"k":"s","x":30,"y":320},{"p":16,"k":"s","x":33,"y":270},{"p":16,"k":"s","x":35,"y":240},
{"p":16,"k":"se","x":33,"y":220,"y2":300}
]},
"concat": [
{"title": "HIP 57443 = HD 102365 = HR 4523", "width": 176, "height": 120, "data": {"name": "d"}, "transform": [{"filter": "datum.p==1"}],
 "encoding": {"x": {"field": "x", "type": "quantitative", "scale": {"type": "log", "domain": [0.3, 200]}, "axis": {"title": "λ (μm)", "values": [0.3,0.4,0.5,0.6,0.7,0.8,0.9,1,2,3,4,5,6,7,8,9,10,20,30,40,50,60,70,80,90,100,200]}},
  "y": {"field": "y", "type": "quantitative", "scale": {"type": "log", "domain": [1, 115000]}, "axis": {"title": "Flux (mJy)", "values": [1,2,3,4,5,6,7,8,9,10,20,30,40,50,60,70,80,90,100,200,300,400,500,600,700,800,900,1000,2000,3000,4000,5000,6000,7000,8000,9000,10000,20000,30000,40000,50000,60000,70000,80000,90000,100000,200000,300000]}}},
 "layer": [
  {"transform": [{"filter": "datum.k=='m'"}], "mark": {"type": "line", "color": "black", "strokeWidth": 1, "clip": true}},
  {"transform": [{"filter": "datum.k=='s'"}], "mark": {"type": "line", "color": "#ff00ff", "strokeWidth": 1.5, "clip": true}},
  {"transform": [{"filter": "datum.k=='se'"}], "mark": {"type": "rule", "color": "#ff00ff", "strokeWidth": 1}, "encoding": {"y2": {"field": "y2"}}},
  {"transform": [{"filter": "datum.k=='ce'"}], "mark": {"type": "errorbar", "ticks": {"size": 5}, "color": "#1ccfcf"}, "encoding": {"y2": {"field": "y2"}}},
  {"transform": [{"filter": "datum.k=='c'"}], "mark": {"type": "square", "size": 20, "color": "#1ccfcf", "opacity": 1}},
  {"transform": [{"filter": "datum.k=='re'"}], "mark": {"type": "errorbar", "ticks": {"size": 5}, "color": "#ff7070"}, "encoding": {"y2": {"field": "y2"}}},
  {"transform": [{"filter": "datum.k=='r'"}], "mark": {"type": "circle", "size": 22, "color": "#ff0000", "opacity": 1}},
  {"transform": [{"filter": "datum.k=='u'"}], "mark": {"type": "errorbar", "ticks": {"size": 6}, "color": "#ff5050"}, "encoding": {"y2": {"field": "y2"}}},
  {"transform": [{"filter": "datum.k=='ua'"}], "mark": {"type": "point", "shape": "triangle-down", "filled": true, "size": 20, "color": "#ff5050", "opacity": 1}}
 ]},
{"title": "HIP 61317 = HD 109358 = HR 4785 = β CVn", "width": 176, "height": 120, "data": {"name": "d"}, "transform": [{"filter": "datum.p==2"}],
 "encoding": {"x": {"field": "x", "type": "quantitative", "scale": {"type": "log", "domain": [0.3, 200]}, "axis": {"title": "λ (μm)", "values": [0.3,0.4,0.5,0.6,0.7,0.8,0.9,1,2,3,4,5,6,7,8,9,10,20,30,40,50,60,70,80,90,100,200]}},
  "y": {"field": "y", "type": "quantitative", "scale": {"type": "log", "domain": [1, 115000]}, "axis": {"title": "Flux (mJy)", "values": [1,2,3,4,5,6,7,8,9,10,20,30,40,50,60,70,80,90,100,200,300,400,500,600,700,800,900,1000,2000,3000,4000,5000,6000,7000,8000,9000,10000,20000,30000,40000,50000,60000,70000,80000,90000,100000,200000,300000]}}},
 "layer": [
  {"transform": [{"filter": "datum.k=='m'"}], "mark": {"type": "line", "color": "black", "strokeWidth": 1, "clip": true}},
  {"transform": [{"filter": "datum.k=='s'"}], "mark": {"type": "line", "color": "#ff00ff", "strokeWidth": 1.5, "clip": true}},
  {"transform": [{"filter": "datum.k=='se'"}], "mark": {"type": "rule", "color": "#ff00ff", "strokeWidth": 1}, "encoding": {"y2": {"field": "y2"}}},
  {"transform": [{"filter": "datum.k=='ce'"}], "mark": {"type": "errorbar", "ticks": {"size": 5}, "color": "#1ccfcf"}, "encoding": {"y2": {"field": "y2"}}},
  {"transform": [{"filter": "datum.k=='c'"}], "mark": {"type": "square", "size": 20, "color": "#1ccfcf", "opacity": 1}},
  {"transform": [{"filter": "datum.k=='re'"}], "mark": {"type": "errorbar", "ticks": {"size": 5}, "color": "#ff7070"}, "encoding": {"y2": {"field": "y2"}}},
  {"transform": [{"filter": "datum.k=='r'"}], "mark": {"type": "circle", "size": 22, "color": "#ff0000", "opacity": 1}},
  {"transform": [{"filter": "datum.k=='u'"}], "mark": {"type": "errorbar", "ticks": {"size": 6}, "color": "#ff5050"}, "encoding": {"y2": {"field": "y2"}}},
  {"transform": [{"filter": "datum.k=='ua'"}], "mark": {"type": "point", "shape": "triangle-down", "filled": true, "size": 20, "color": "#ff5050", "opacity": 1}}
 ]},
{"title": "HIP 64241 = HD 114378J = 42 Com", "width": 176, "height": 120, "data": {"name": "d"}, "transform": [{"filter": "datum.p==3"}],
 "encoding": {"x": {"field": "x", "type": "quantitative", "scale": {"type": "log", "domain": [0.3, 200]}, "axis": {"title": "λ (μm)", "values": [0.3,0.4,0.5,0.6,0.7,0.8,0.9,1,2,3,4,5,6,7,8,9,10,20,30,40,50,60,70,80,90,100,200]}},
  "y": {"field": "y", "type": "quantitative", "scale": {"type": "log", "domain": [1, 115000]}, "axis": {"title": "Flux (mJy)", "values": [1,2,3,4,5,6,7,8,9,10,20,30,40,50,60,70,80,90,100,200,300,400,500,600,700,800,900,1000,2000,3000,4000,5000,6000,7000,8000,9000,10000,20000,30000,40000,50000,60000,70000,80000,90000,100000,200000,300000]}}},
 "layer": [
  {"transform": [{"filter": "datum.k=='m'"}], "mark": {"type": "line", "color": "black", "strokeWidth": 1, "clip": true}},
  {"transform": [{"filter": "datum.k=='s'"}], "mark": {"type": "line", "color": "#ff00ff", "strokeWidth": 1.5, "clip": true}},
  {"transform": [{"filter": "datum.k=='se'"}], "mark": {"type": "rule", "color": "#ff00ff", "strokeWidth": 1}, "encoding": {"y2": {"field": "y2"}}},
  {"transform": [{"filter": "datum.k=='ce'"}], "mark": {"type": "errorbar", "ticks": {"size": 5}, "color": "#1ccfcf"}, "encoding": {"y2": {"field": "y2"}}},
  {"transform": [{"filter": "datum.k=='c'"}], "mark": {"type": "square", "size": 20, "color": "#1ccfcf", "opacity": 1}},
  {"transform": [{"filter": "datum.k=='re'"}], "mark": {"type": "errorbar", "ticks": {"size": 5}, "color": "#ff7070"}, "encoding": {"y2": {"field": "y2"}}},
  {"transform": [{"filter": "datum.k=='r'"}], "mark": {"type": "circle", "size": 22, "color": "#ff0000", "opacity": 1}},
  {"transform": [{"filter": "datum.k=='u'"}], "mark": {"type": "errorbar", "ticks": {"size": 6}, "color": "#ff5050"}, "encoding": {"y2": {"field": "y2"}}},
  {"transform": [{"filter": "datum.k=='ua'"}], "mark": {"type": "point", "shape": "triangle-down", "filled": true, "size": 20, "color": "#ff5050", "opacity": 1}}
 ]},
{"title": "HIP 64394 = HD 114710 = HR 4983 = β Com", "width": 176, "height": 120, "data": {"name": "d"}, "transform": [{"filter": "datum.p==4"}],
 "encoding": {"x": {"field": "x", "type": "quantitative", "scale": {"type": "log", "domain": [0.3, 200]}, "axis": {"title": "λ (μm)", "values": [0.3,0.4,0.5,0.6,0.7,0.8,0.9,1,2,3,4,5,6,7,8,9,10,20,30,40,50,60,70,80,90,100,200]}},
  "y": {"field": "y", "type": "quantitative", "scale": {"type": "log", "domain": [1, 115000]}, "axis": {"title": "Flux (mJy)", "values": [1,2,3,4,5,6,7,8,9,10,20,30,40,50,60,70,80,90,100,200,300,400,500,600,700,800,900,1000,2000,3000,4000,5000,6000,7000,8000,9000,10000,20000,30000,40000,50000,60000,70000,80000,90000,100000,200000,300000]}}},
 "layer": [
  {"transform": [{"filter": "datum.k=='m'"}], "mark": {"type": "line", "color": "black", "strokeWidth": 1, "clip": true}},
  {"transform": [{"filter": "datum.k=='s'"}], "mark": {"type": "line", "color": "#ff00ff", "strokeWidth": 1.5, "clip": true}},
  {"transform": [{"filter": "datum.k=='se'"}], "mark": {"type": "rule", "color": "#ff00ff", "strokeWidth": 1}, "encoding": {"y2": {"field": "y2"}}},
  {"transform": [{"filter": "datum.k=='ce'"}], "mark": {"type": "errorbar", "ticks": {"size": 5}, "color": "#1ccfcf"}, "encoding": {"y2": {"field": "y2"}}},
  {"transform": [{"filter": "datum.k=='c'"}], "mark": {"type": "square", "size": 20, "color": "#1ccfcf", "opacity": 1}},
  {"transform": [{"filter": "datum.k=='re'"}], "mark": {"type": "errorbar", "ticks": {"size": 5}, "color": "#ff7070"}, "encoding": {"y2": {"field": "y2"}}},
  {"transform": [{"filter": "datum.k=='r'"}], "mark": {"type": "circle", "size": 22, "color": "#ff0000", "opacity": 1}},
  {"transform": [{"filter": "datum.k=='u'"}], "mark": {"type": "errorbar", "ticks": {"size": 6}, "color": "#ff5050"}, "encoding": {"y2": {"field": "y2"}}},
  {"transform": [{"filter": "datum.k=='ua'"}], "mark": {"type": "point", "shape": "triangle-down", "filled": true, "size": 20, "color": "#ff5050", "opacity": 1}}
 ]},
{"title": "HIP 67153 = HD 119756 = HR 5168 = 1 Cen", "width": 176, "height": 120, "data": {"name": "d"}, "transform": [{"filter": "datum.p==5"}],
 "encoding": {"x": {"field": "x", "type": "quantitative", "scale": {"type": "log", "domain": [0.3, 200]}, "axis": {"title": "λ (μm)", "values": [0.3,0.4,0.5,0.6,0.7,0.8,0.9,1,2,3,4,5,6,7,8,9,10,20,30,40,50,60,70,80,90,100,200]}},
  "y": {"field": "y", "type": "quantitative", "scale": {"type": "log", "domain": [1, 150000]}, "axis": {"title": "Flux (mJy)", "values": [1,2,3,4,5,6,7,8,9,10,20,30,40,50,60,70,80,90,100,200,300,400,500,600,700,800,900,1000,2000,3000,4000,5000,6000,7000,8000,9000,10000,20000,30000,40000,50000,60000,70000,80000,90000,100000,200000,300000]}}},
 "layer": [
  {"transform": [{"filter": "datum.k=='m'"}], "mark": {"type": "line", "color": "black", "strokeWidth": 1, "clip": true}},
  {"transform": [{"filter": "datum.k=='s'"}], "mark": {"type": "line", "color": "#ff00ff", "strokeWidth": 1.5, "clip": true}},
  {"transform": [{"filter": "datum.k=='se'"}], "mark": {"type": "rule", "color": "#ff00ff", "strokeWidth": 1}, "encoding": {"y2": {"field": "y2"}}},
  {"transform": [{"filter": "datum.k=='ce'"}], "mark": {"type": "errorbar", "ticks": {"size": 5}, "color": "#1ccfcf"}, "encoding": {"y2": {"field": "y2"}}},
  {"transform": [{"filter": "datum.k=='c'"}], "mark": {"type": "square", "size": 20, "color": "#1ccfcf", "opacity": 1}},
  {"transform": [{"filter": "datum.k=='re'"}], "mark": {"type": "errorbar", "ticks": {"size": 5}, "color": "#ff7070"}, "encoding": {"y2": {"field": "y2"}}},
  {"transform": [{"filter": "datum.k=='r'"}], "mark": {"type": "circle", "size": 22, "color": "#ff0000", "opacity": 1}},
  {"transform": [{"filter": "datum.k=='u'"}], "mark": {"type": "errorbar", "ticks": {"size": 6}, "color": "#ff5050"}, "encoding": {"y2": {"field": "y2"}}},
  {"transform": [{"filter": "datum.k=='ua'"}], "mark": {"type": "point", "shape": "triangle-down", "filled": true, "size": 20, "color": "#ff5050", "opacity": 1}}
 ]},
{"title": "HIP 70497 = HD 126660 = HR 5404 = θ Boo", "width": 176, "height": 120, "data": {"name": "d"}, "transform": [{"filter": "datum.p==6"}],
 "encoding": {"x": {"field": "x", "type": "quantitative", "scale": {"type": "log", "domain": [0.3, 200]}, "axis": {"title": "λ (μm)", "values": [0.3,0.4,0.5,0.6,0.7,0.8,0.9,1,2,3,4,5,6,7,8,9,10,20,30,40,50,60,70,80,90,100,200]}},
  "y": {"field": "y", "type": "quantitative", "scale": {"type": "log", "domain": [1, 140000]}, "axis": {"title": "Flux (mJy)", "values": [1,2,3,4,5,6,7,8,9,10,20,30,40,50,60,70,80,90,100,200,300,400,500,600,700,800,900,1000,2000,3000,4000,5000,6000,7000,8000,9000,10000,20000,30000,40000,50000,60000,70000,80000,90000,100000,200000,300000]}}},
 "layer": [
  {"transform": [{"filter": "datum.k=='m'"}], "mark": {"type": "line", "color": "black", "strokeWidth": 1, "clip": true}},
  {"transform": [{"filter": "datum.k=='s'"}], "mark": {"type": "line", "color": "#ff00ff", "strokeWidth": 1.5, "clip": true}},
  {"transform": [{"filter": "datum.k=='se'"}], "mark": {"type": "rule", "color": "#ff00ff", "strokeWidth": 1}, "encoding": {"y2": {"field": "y2"}}},
  {"transform": [{"filter": "datum.k=='ce'"}], "mark": {"type": "errorbar", "ticks": {"size": 5}, "color": "#1ccfcf"}, "encoding": {"y2": {"field": "y2"}}},
  {"transform": [{"filter": "datum.k=='c'"}], "mark": {"type": "square", "size": 20, "color": "#1ccfcf", "opacity": 1}},
  {"transform": [{"filter": "datum.k=='re'"}], "mark": {"type": "errorbar", "ticks": {"size": 5}, "color": "#ff7070"}, "encoding": {"y2": {"field": "y2"}}},
  {"transform": [{"filter": "datum.k=='r'"}], "mark": {"type": "circle", "size": 22, "color": "#ff0000", "opacity": 1}},
  {"transform": [{"filter": "datum.k=='u'"}], "mark": {"type": "errorbar", "ticks": {"size": 6}, "color": "#ff5050"}, "encoding": {"y2": {"field": "y2"}}},
  {"transform": [{"filter": "datum.k=='ua'"}], "mark": {"type": "point", "shape": "triangle-down", "filled": true, "size": 20, "color": "#ff5050", "opacity": 1}}
 ]},
{"title": "HIP 75312 = HD 137107J = η CrB", "width": 176, "height": 120, "data": {"name": "d"}, "transform": [{"filter": "datum.p==7"}],
 "encoding": {"x": {"field": "x", "type": "quantitative", "scale": {"type": "log", "domain": [0.3, 200]}, "axis": {"title": "λ (μm)", "values": [0.3,0.4,0.5,0.6,0.7,0.8,0.9,1,2,3,4,5,6,7,8,9,10,20,30,40,50,60,70,80,90,100,200]}},
  "y": {"field": "y", "type": "quantitative", "scale": {"type": "log", "domain": [1, 90000]}, "axis": {"title": "Flux (mJy)", "values": [1,2,3,4,5,6,7,8,9,10,20,30,40,50,60,70,80,90,100,200,300,400,500,600,700,800,900,1000,2000,3000,4000,5000,6000,7000,8000,9000,10000,20000,30000,40000,50000,60000,70000,80000,90000,100000,200000,300000]}}},
 "layer": [
  {"transform": [{"filter": "datum.k=='m'"}], "mark": {"type": "line", "color": "black", "strokeWidth": 1, "clip": true}},
  {"transform": [{"filter": "datum.k=='s'"}], "mark": {"type": "line", "color": "#ff00ff", "strokeWidth": 1.5, "clip": true}},
  {"transform": [{"filter": "datum.k=='se'"}], "mark": {"type": "rule", "color": "#ff00ff", "strokeWidth": 1}, "encoding": {"y2": {"field": "y2"}}},
  {"transform": [{"filter": "datum.k=='ce'"}], "mark": {"type": "errorbar", "ticks": {"size": 5}, "color": "#1ccfcf"}, "encoding": {"y2": {"field": "y2"}}},
  {"transform": [{"filter": "datum.k=='c'"}], "mark": {"type": "square", "size": 20, "color": "#1ccfcf", "opacity": 1}},
  {"transform": [{"filter": "datum.k=='re'"}], "mark": {"type": "errorbar", "ticks": {"size": 5}, "color": "#ff7070"}, "encoding": {"y2": {"field": "y2"}}},
  {"transform": [{"filter": "datum.k=='r'"}], "mark": {"type": "circle", "size": 22, "color": "#ff0000", "opacity": 1}},
  {"transform": [{"filter": "datum.k=='u'"}], "mark": {"type": "errorbar", "ticks": {"size": 6}, "color": "#ff5050"}, "encoding": {"y2": {"field": "y2"}}},
  {"transform": [{"filter": "datum.k=='ua'"}], "mark": {"type": "point", "shape": "triangle-down", "filled": true, "size": 20, "color": "#ff5050", "opacity": 1}}
 ]},
{"title": "HIP 77760 = HD 142373 = HR 5914 = χ Her", "width": 176, "height": 120, "data": {"name": "d"}, "transform": [{"filter": "datum.p==8"}],
 "encoding": {"x": {"field": "x", "type": "quantitative", "scale": {"type": "log", "domain": [0.3, 200]}, "axis": {"title": "λ (μm)", "values": [0.3,0.4,0.5,0.6,0.7,0.8,0.9,1,2,3,4,5,6,7,8,9,10,20,30,40,50,60,70,80,90,100,200]}},
  "y": {"field": "y", "type": "quantitative", "scale": {"type": "log", "domain": [1, 200000]}, "axis": {"title": "Flux (mJy)", "values": [1,2,3,4,5,6,7,8,9,10,20,30,40,50,60,70,80,90,100,200,300,400,500,600,700,800,900,1000,2000,3000,4000,5000,6000,7000,8000,9000,10000,20000,30000,40000,50000,60000,70000,80000,90000,100000,200000,300000]}}},
 "layer": [
  {"transform": [{"filter": "datum.k=='m'"}], "mark": {"type": "line", "color": "black", "strokeWidth": 1, "clip": true}},
  {"transform": [{"filter": "datum.k=='s'"}], "mark": {"type": "line", "color": "#ff00ff", "strokeWidth": 1.5, "clip": true}},
  {"transform": [{"filter": "datum.k=='se'"}], "mark": {"type": "rule", "color": "#ff00ff", "strokeWidth": 1}, "encoding": {"y2": {"field": "y2"}}},
  {"transform": [{"filter": "datum.k=='ce'"}], "mark": {"type": "errorbar", "ticks": {"size": 5}, "color": "#1ccfcf"}, "encoding": {"y2": {"field": "y2"}}},
  {"transform": [{"filter": "datum.k=='c'"}], "mark": {"type": "square", "size": 20, "color": "#1ccfcf", "opacity": 1}},
  {"transform": [{"filter": "datum.k=='re'"}], "mark": {"type": "errorbar", "ticks": {"size": 5}, "color": "#ff7070"}, "encoding": {"y2": {"field": "y2"}}},
  {"transform": [{"filter": "datum.k=='r'"}], "mark": {"type": "circle", "size": 22, "color": "#ff0000", "opacity": 1}},
  {"transform": [{"filter": "datum.k=='u'"}], "mark": {"type": "errorbar", "ticks": {"size": 6}, "color": "#ff5050"}, "encoding": {"y2": {"field": "y2"}}},
  {"transform": [{"filter": "datum.k=='ua'"}], "mark": {"type": "point", "shape": "triangle-down", "filled": true, "size": 20, "color": "#ff5050", "opacity": 1}}
 ]},
{"title": "HIP 78072 = HD 142860 = HR 5933 = γ Ser", "width": 176, "height": 120, "data": {"name": "d"}, "transform": [{"filter": "datum.p==9"}],
 "encoding": {"x": {"field": "x", "type": "quantitative", "scale": {"type": "log", "domain": [0.3, 200]}, "axis": {"title": "λ (μm)", "values": [0.3,0.4,0.5,0.6,0.7,0.8,0.9,1,2,3,4,5,6,7,8,9,10,20,30,40,50,60,70,80,90,100,200]}},
  "y": {"field": "y", "type": "quantitative", "scale": {"type": "log", "domain": [10, 290000]}, "axis": {"title": "Flux (mJy)", "values": [10,20,30,40,50,60,70,80,90,100,200,300,400,500,600,700,800,900,1000,2000,3000,4000,5000,6000,7000,8000,9000,10000,20000,30000,40000,50000,60000,70000,80000,90000,100000,200000]}}},
 "layer": [
  {"transform": [{"filter": "datum.k=='m'"}], "mark": {"type": "line", "color": "black", "strokeWidth": 1, "clip": true}},
  {"transform": [{"filter": "datum.k=='s'"}], "mark": {"type": "line", "color": "#ff00ff", "strokeWidth": 1.5, "clip": true}},
  {"transform": [{"filter": "datum.k=='se'"}], "mark": {"type": "rule", "color": "#ff00ff", "strokeWidth": 1}, "encoding": {"y2": {"field": "y2"}}},
  {"transform": [{"filter": "datum.k=='ce'"}], "mark": {"type": "errorbar", "ticks": {"size": 5}, "color": "#1ccfcf"}, "encoding": {"y2": {"field": "y2"}}},
  {"transform": [{"filter": "datum.k=='c'"}], "mark": {"type": "square", "size": 20, "color": "#1ccfcf", "opacity": 1}},
  {"transform": [{"filter": "datum.k=='re'"}], "mark": {"type": "errorbar", "ticks": {"size": 5}, "color": "#ff7070"}, "encoding": {"y2": {"field": "y2"}}},
  {"transform": [{"filter": "datum.k=='r'"}], "mark": {"type": "circle", "size": 22, "color": "#ff0000", "opacity": 1}},
  {"transform": [{"filter": "datum.k=='u'"}], "mark": {"type": "errorbar", "ticks": {"size": 6}, "color": "#ff5050"}, "encoding": {"y2": {"field": "y2"}}},
  {"transform": [{"filter": "datum.k=='ua'"}], "mark": {"type": "point", "shape": "triangle-down", "filled": true, "size": 20, "color": "#ff5050", "opacity": 1}}
 ]},
{"title": "HIP 80686 = HD 147584 = HR 6098 = ζ TrA", "width": 176, "height": 120, "data": {"name": "d"}, "transform": [{"filter": "datum.p==10"}],
 "encoding": {"x": {"field": "x", "type": "quantitative", "scale": {"type": "log", "domain": [0.3, 200]}, "axis": {"title": "λ (μm)", "values": [0.3,0.4,0.5,0.6,0.7,0.8,0.9,1,2,3,4,5,6,7,8,9,10,20,30,40,50,60,70,80,90,100,200]}},
  "y": {"field": "y", "type": "quantitative", "scale": {"type": "log", "domain": [1, 250000]}, "axis": {"title": "Flux (mJy)", "values": [1,2,3,4,5,6,7,8,9,10,20,30,40,50,60,70,80,90,100,200,300,400,500,600,700,800,900,1000,2000,3000,4000,5000,6000,7000,8000,9000,10000,20000,30000,40000,50000,60000,70000,80000,90000,100000,200000]}}},
 "layer": [
  {"transform": [{"filter": "datum.k=='m'"}], "mark": {"type": "line", "color": "black", "strokeWidth": 1, "clip": true}},
  {"transform": [{"filter": "datum.k=='s'"}], "mark": {"type": "line", "color": "#ff00ff", "strokeWidth": 1.5, "clip": true}},
  {"transform": [{"filter": "datum.k=='se'"}], "mark": {"type": "rule", "color": "#ff00ff", "strokeWidth": 1}, "encoding": {"y2": {"field": "y2"}}},
  {"transform": [{"filter": "datum.k=='ce'"}], "mark": {"type": "errorbar", "ticks": {"size": 5}, "color": "#1ccfcf"}, "encoding": {"y2": {"field": "y2"}}},
  {"transform": [{"filter": "datum.k=='c'"}], "mark": {"type": "square", "size": 20, "color": "#1ccfcf", "opacity": 1}},
  {"transform": [{"filter": "datum.k=='re'"}], "mark": {"type": "errorbar", "ticks": {"size": 5}, "color": "#ff7070"}, "encoding": {"y2": {"field": "y2"}}},
  {"transform": [{"filter": "datum.k=='r'"}], "mark": {"type": "circle", "size": 22, "color": "#ff0000", "opacity": 1}},
  {"transform": [{"filter": "datum.k=='u'"}], "mark": {"type": "errorbar", "ticks": {"size": 6}, "color": "#ff5050"}, "encoding": {"y2": {"field": "y2"}}},
  {"transform": [{"filter": "datum.k=='ua'"}], "mark": {"type": "point", "shape": "triangle-down", "filled": true, "size": 20, "color": "#ff5050", "opacity": 1}}
 ]},
{"title": "HIP 89937 = HD 170153 = HR 6927 = χ Dra", "width": 176, "height": 120, "data": {"name": "d"}, "transform": [{"filter": "datum.p==11"}],
 "encoding": {"x": {"field": "x", "type": "quantitative", "scale": {"type": "log", "domain": [0.3, 200]}, "axis": {"title": "λ (μm)", "values": [0.3,0.4,0.5,0.6,0.7,0.8,0.9,1,2,3,4,5,6,7,8,9,10,20,30,40,50,60,70,80,90,100,200]}},
  "y": {"field": "y", "type": "quantitative", "scale": {"type": "log", "domain": [10, 350000]}, "axis": {"title": "Flux (mJy)", "values": [10,20,30,40,50,60,70,80,90,100,200,300,400,500,600,700,800,900,1000,2000,3000,4000,5000,6000,7000,8000,9000,10000,20000,30000,40000,50000,60000,70000,80000,90000,100000,200000,300000]}}},
 "layer": [
  {"transform": [{"filter": "datum.k=='m'"}], "mark": {"type": "line", "color": "black", "strokeWidth": 1, "clip": true}},
  {"transform": [{"filter": "datum.k=='s'"}], "mark": {"type": "line", "color": "#ff00ff", "strokeWidth": 1.5, "clip": true}},
  {"transform": [{"filter": "datum.k=='se'"}], "mark": {"type": "rule", "color": "#ff00ff", "strokeWidth": 1}, "encoding": {"y2": {"field": "y2"}}},
  {"transform": [{"filter": "datum.k=='ce'"}], "mark": {"type": "errorbar", "ticks": {"size": 5}, "color": "#1ccfcf"}, "encoding": {"y2": {"field": "y2"}}},
  {"transform": [{"filter": "datum.k=='c'"}], "mark": {"type": "square", "size": 20, "color": "#1ccfcf", "opacity": 1}},
  {"transform": [{"filter": "datum.k=='re'"}], "mark": {"type": "errorbar", "ticks": {"size": 5}, "color": "#ff7070"}, "encoding": {"y2": {"field": "y2"}}},
  {"transform": [{"filter": "datum.k=='r'"}], "mark": {"type": "circle", "size": 22, "color": "#ff0000", "opacity": 1}},
  {"transform": [{"filter": "datum.k=='u'"}], "mark": {"type": "errorbar", "ticks": {"size": 6}, "color": "#ff5050"}, "encoding": {"y2": {"field": "y2"}}},
  {"transform": [{"filter": "datum.k=='ua'"}], "mark": {"type": "point", "shape": "triangle-down", "filled": true, "size": 20, "color": "#ff5050", "opacity": 1}}
 ]},
{"title": "HIP 93017 = HD 176051 = HR 7168", "width": 176, "height": 120, "data": {"name": "d"}, "transform": [{"filter": "datum.p==12"}],
 "encoding": {"x": {"field": "x", "type": "quantitative", "scale": {"type": "log", "domain": [0.3, 200]}, "axis": {"title": "λ (μm)", "values": [0.3,0.4,0.5,0.6,0.7,0.8,0.9,1,2,3,4,5,6,7,8,9,10,20,30,40,50,60,70,80,90,100,200]}},
  "y": {"field": "y", "type": "quantitative", "scale": {"type": "log", "domain": [1, 70000]}, "axis": {"title": "Flux (mJy)", "values": [1,2,3,4,5,6,7,8,9,10,20,30,40,50,60,70,80,90,100,200,300,400,500,600,700,800,900,1000,2000,3000,4000,5000,6000,7000,8000,9000,10000,20000,30000,40000,50000,60000,70000]}}},
 "layer": [
  {"transform": [{"filter": "datum.k=='m'"}], "mark": {"type": "line", "color": "black", "strokeWidth": 1, "clip": true}},
  {"transform": [{"filter": "datum.k=='s'"}], "mark": {"type": "line", "color": "#ff00ff", "strokeWidth": 1.5, "clip": true}},
  {"transform": [{"filter": "datum.k=='se'"}], "mark": {"type": "rule", "color": "#ff00ff", "strokeWidth": 1}, "encoding": {"y2": {"field": "y2"}}},
  {"transform": [{"filter": "datum.k=='ce'"}], "mark": {"type": "errorbar", "ticks": {"size": 5}, "color": "#1ccfcf"}, "encoding": {"y2": {"field": "y2"}}},
  {"transform": [{"filter": "datum.k=='c'"}], "mark": {"type": "square", "size": 20, "color": "#1ccfcf", "opacity": 1}},
  {"transform": [{"filter": "datum.k=='re'"}], "mark": {"type": "errorbar", "ticks": {"size": 5}, "color": "#ff7070"}, "encoding": {"y2": {"field": "y2"}}},
  {"transform": [{"filter": "datum.k=='r'"}], "mark": {"type": "circle", "size": 22, "color": "#ff0000", "opacity": 1}},
  {"transform": [{"filter": "datum.k=='u'"}], "mark": {"type": "errorbar", "ticks": {"size": 6}, "color": "#ff5050"}, "encoding": {"y2": {"field": "y2"}}},
  {"transform": [{"filter": "datum.k=='ua'"}], "mark": {"type": "point", "shape": "triangle-down", "filled": true, "size": 20, "color": "#ff5050", "opacity": 1}}
 ]},
{"title": "HIP 99825 = HD 192310 = HR 7722", "width": 176, "height": 120, "data": {"name": "d"}, "transform": [{"filter": "datum.p==13"}],
 "encoding": {"x": {"field": "x", "type": "quantitative", "scale": {"type": "log", "domain": [0.3, 200]}, "axis": {"title": "λ (μm)", "values": [0.3,0.4,0.5,0.6,0.7,0.8,0.9,1,2,3,4,5,6,7,8,9,10,20,30,40,50,60,70,80,90,100,200]}},
  "y": {"field": "y", "type": "quantitative", "scale": {"type": "log", "domain": [1, 80000]}, "axis": {"title": "Flux (mJy)", "values": [1,2,3,4,5,6,7,8,9,10,20,30,40,50,60,70,80,90,100,200,300,400,500,600,700,800,900,1000,2000,3000,4000,5000,6000,7000,8000,9000,10000,20000,30000,40000,50000,60000,70000,80000]}}},
 "layer": [
  {"transform": [{"filter": "datum.k=='m'"}], "mark": {"type": "line", "color": "black", "strokeWidth": 1, "clip": true}},
  {"transform": [{"filter": "datum.k=='s'"}], "mark": {"type": "line", "color": "#ff00ff", "strokeWidth": 1.5, "clip": true}},
  {"transform": [{"filter": "datum.k=='se'"}], "mark": {"type": "rule", "color": "#ff00ff", "strokeWidth": 1}, "encoding": {"y2": {"field": "y2"}}},
  {"transform": [{"filter": "datum.k=='ce'"}], "mark": {"type": "errorbar", "ticks": {"size": 5}, "color": "#1ccfcf"}, "encoding": {"y2": {"field": "y2"}}},
  {"transform": [{"filter": "datum.k=='c'"}], "mark": {"type": "square", "size": 20, "color": "#1ccfcf", "opacity": 1}},
  {"transform": [{"filter": "datum.k=='re'"}], "mark": {"type": "errorbar", "ticks": {"size": 5}, "color": "#ff7070"}, "encoding": {"y2": {"field": "y2"}}},
  {"transform": [{"filter": "datum.k=='r'"}], "mark": {"type": "circle", "size": 22, "color": "#ff0000", "opacity": 1}},
  {"transform": [{"filter": "datum.k=='u'"}], "mark": {"type": "errorbar", "ticks": {"size": 6}, "color": "#ff5050"}, "encoding": {"y2": {"field": "y2"}}},
  {"transform": [{"filter": "datum.k=='ua'"}], "mark": {"type": "point", "shape": "triangle-down", "filled": true, "size": 20, "color": "#ff5050", "opacity": 1}}
 ]},
{"title": "HIP 102485 = HD 197692 = HR 7936 = ψ Cap", "width": 176, "height": 120, "data": {"name": "d"}, "transform": [{"filter": "datum.p==14"}],
 "encoding": {"x": {"field": "x", "type": "quantitative", "scale": {"type": "log", "domain": [0.3, 200]}, "axis": {"title": "λ (μm)", "values": [0.3,0.4,0.5,0.6,0.7,0.8,0.9,1,2,3,4,5,6,7,8,9,10,20,30,40,50,60,70,80,90,100,200]}},
  "y": {"field": "y", "type": "quantitative", "scale": {"type": "log", "domain": [1, 160000]}, "axis": {"title": "Flux (mJy)", "values": [1,2,3,4,5,6,7,8,9,10,20,30,40,50,60,70,80,90,100,200,300,400,500,600,700,800,900,1000,2000,3000,4000,5000,6000,7000,8000,9000,10000,20000,30000,40000,50000,60000,70000,80000,90000,100000]}}},
 "layer": [
  {"transform": [{"filter": "datum.k=='m'"}], "mark": {"type": "line", "color": "black", "strokeWidth": 1, "clip": true}},
  {"transform": [{"filter": "datum.k=='s'"}], "mark": {"type": "line", "color": "#ff00ff", "strokeWidth": 1.5, "clip": true}},
  {"transform": [{"filter": "datum.k=='se'"}], "mark": {"type": "rule", "color": "#ff00ff", "strokeWidth": 1}, "encoding": {"y2": {"field": "y2"}}},
  {"transform": [{"filter": "datum.k=='ce'"}], "mark": {"type": "errorbar", "ticks": {"size": 5}, "color": "#1ccfcf"}, "encoding": {"y2": {"field": "y2"}}},
  {"transform": [{"filter": "datum.k=='c'"}], "mark": {"type": "square", "size": 20, "color": "#1ccfcf", "opacity": 1}},
  {"transform": [{"filter": "datum.k=='re'"}], "mark": {"type": "errorbar", "ticks": {"size": 5}, "color": "#ff7070"}, "encoding": {"y2": {"field": "y2"}}},
  {"transform": [{"filter": "datum.k=='r'"}], "mark": {"type": "circle", "size": 22, "color": "#ff0000", "opacity": 1}},
  {"transform": [{"filter": "datum.k=='u'"}], "mark": {"type": "errorbar", "ticks": {"size": 6}, "color": "#ff5050"}, "encoding": {"y2": {"field": "y2"}}},
  {"transform": [{"filter": "datum.k=='ua'"}], "mark": {"type": "point", "shape": "triangle-down", "filled": true, "size": 20, "color": "#ff5050", "opacity": 1}}
 ]},
{"title": "HIP 104858 = HD 202275 = HR 8123 = δ Equ", "width": 176, "height": 120, "data": {"name": "d"}, "transform": [{"filter": "datum.p==15"}],
 "encoding": {"x": {"field": "x", "type": "quantitative", "scale": {"type": "log", "domain": [0.3, 200]}, "axis": {"title": "λ (μm)", "values": [0.3,0.4,0.5,0.6,0.7,0.8,0.9,1,2,3,4,5,6,7,8,9,10,20,30,40,50,60,70,80,90,100,200]}},
  "y": {"field": "y", "type": "quantitative", "scale": {"type": "log", "domain": [1, 160000]}, "axis": {"title": "Flux (mJy)", "values": [1,2,3,4,5,6,7,8,9,10,20,30,40,50,60,70,80,90,100,200,300,400,500,600,700,800,900,1000,2000,3000,4000,5000,6000,7000,8000,9000,10000,20000,30000,40000,50000,60000,70000,80000,90000,100000]}}},
 "layer": [
  {"transform": [{"filter": "datum.k=='m'"}], "mark": {"type": "line", "color": "black", "strokeWidth": 1, "clip": true}},
  {"transform": [{"filter": "datum.k=='s'"}], "mark": {"type": "line", "color": "#ff00ff", "strokeWidth": 1.5, "clip": true}},
  {"transform": [{"filter": "datum.k=='se'"}], "mark": {"type": "rule", "color": "#ff00ff", "strokeWidth": 1}, "encoding": {"y2": {"field": "y2"}}},
  {"transform": [{"filter": "datum.k=='ce'"}], "mark": {"type": "errorbar", "ticks": {"size": 5}, "color": "#1ccfcf"}, "encoding": {"y2": {"field": "y2"}}},
  {"transform": [{"filter": "datum.k=='c'"}], "mark": {"type": "square", "size": 20, "color": "#1ccfcf", "opacity": 1}},
  {"transform": [{"filter": "datum.k=='re'"}], "mark": {"type": "errorbar", "ticks": {"size": 5}, "color": "#ff7070"}, "encoding": {"y2": {"field": "y2"}}},
  {"transform": [{"filter": "datum.k=='r'"}], "mark": {"type": "circle", "size": 22, "color": "#ff0000", "opacity": 1}},
  {"transform": [{"filter": "datum.k=='u'"}], "mark": {"type": "errorbar", "ticks": {"size": 6}, "color": "#ff5050"}, "encoding": {"y2": {"field": "y2"}}},
  {"transform": [{"filter": "datum.k=='ua'"}], "mark": {"type": "point", "shape": "triangle-down", "filled": true, "size": 20, "color": "#ff5050", "opacity": 1}}
 ]},
{"title": "HIP 105858 = HD 203608 = HR 8181 = γ Pav", "width": 176, "height": 120, "data": {"name": "d"}, "transform": [{"filter": "datum.p==16"}],
 "encoding": {"x": {"field": "x", "type": "quantitative", "scale": {"type": "log", "domain": [0.3, 200]}, "axis": {"title": "λ (μm)", "values": [0.3,0.4,0.5,0.6,0.7,0.8,0.9,1,2,3,4,5,6,7,8,9,10,20,30,40,50,60,70,80,90,100,200]}},
  "y": {"field": "y", "type": "quantitative", "scale": {"type": "log", "domain": [1, 160000]}, "axis": {"title": "Flux (mJy)", "values": [1,2,3,4,5,6,7,8,9,10,20,30,40,50,60,70,80,90,100,200,300,400,500,600,700,800,900,1000,2000,3000,4000,5000,6000,7000,8000,9000,10000,20000,30000,40000,50000,60000,70000,80000,90000,100000]}}},
 "layer": [
  {"transform": [{"filter": "datum.k=='m'"}], "mark": {"type": "line", "color": "black", "strokeWidth": 1, "clip": true}},
  {"transform": [{"filter": "datum.k=='s'"}], "mark": {"type": "line", "color": "#ff00ff", "strokeWidth": 1.5, "clip": true}},
  {"transform": [{"filter": "datum.k=='se'"}], "mark": {"type": "rule", "color": "#ff00ff", "strokeWidth": 1}, "encoding": {"y2": {"field": "y2"}}},
  {"transform": [{"filter": "datum.k=='ce'"}], "mark": {"type": "errorbar", "ticks": {"size": 5}, "color": "#1ccfcf"}, "encoding": {"y2": {"field": "y2"}}},
  {"transform": [{"filter": "datum.k=='c'"}], "mark": {"type": "square", "size": 20, "color": "#1ccfcf", "opacity": 1}},
  {"transform": [{"filter": "datum.k=='re'"}], "mark": {"type": "errorbar", "ticks": {"size": 5}, "color": "#ff7070"}, "encoding": {"y2": {"field": "y2"}}},
  {"transform": [{"filter": "datum.k=='r'"}], "mark": {"type": "circle", "size": 22, "color": "#ff0000", "opacity": 1}},
  {"transform": [{"filter": "datum.k=='u'"}], "mark": {"type": "errorbar", "ticks": {"size": 6}, "color": "#ff5050"}, "encoding": {"y2": {"field": "y2"}}},
  {"transform": [{"filter": "datum.k=='ua'"}], "mark": {"type": "point", "shape": "triangle-down", "filled": true, "size": 20, "color": "#ff5050", "opacity": 1}}
 ]}
],
"config": {
 "view": {"stroke": "black", "strokeWidth": 1},
 "axis": {"grid": false, "domain": false, "tickColor": "black", "labelColor": "black", "labelFont": "Liberation Serif", "labelFontSize": 10, "titleFont": "Liberation Serif", "titleFontSize": 11, "titleFontWeight": "normal", "titleColor": "black"},
 "axisX": {"labelExpr": "indexof([1,10,100],datum.value)>=0 ? datum.value+'' : ''", "tickSize": {"condition": {"test": "indexof([1,10,100],datum.value)>=0", "value": -6}, "value": -3}, "labelPadding": 9, "titlePadding": 2},
 "axisY": {"labelExpr": "datum.value==100000 ? '10⁵' : datum.value==10000 ? '10⁴' : (indexof([1,10,100,1000],datum.value)>=0 ? datum.value+'' : '')", "tickSize": {"condition": {"test": "indexof([1,10,100,1000,10000,100000],datum.value)>=0", "value": -6}, "value": -3}, "labelPadding": 9, "titlePadding": 3, "minExtent": 24, "maxExtent": 24},
 "title": {"font": "DejaVu Sans Mono", "fontSize": 7.3, "fontWeight": "normal", "anchor": "start", "frame": "group", "offset": 2, "color": "black"}
}
}
